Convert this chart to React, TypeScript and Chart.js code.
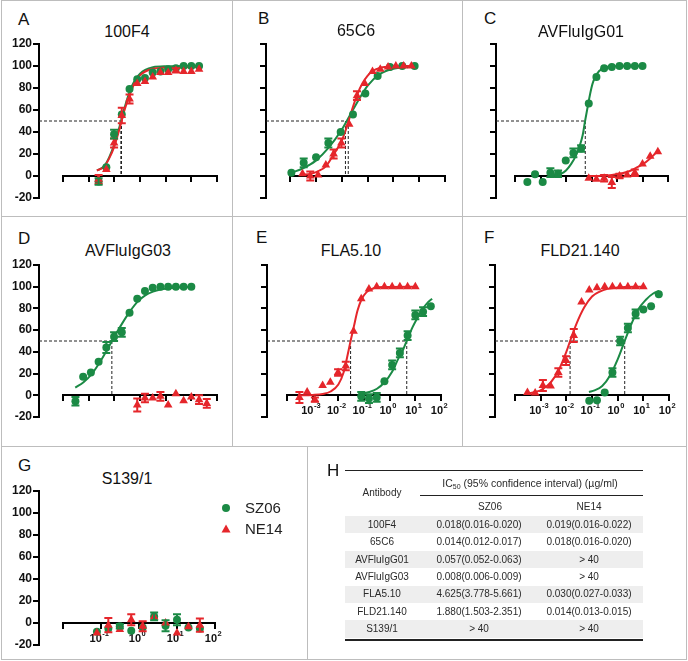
import React, { useEffect, useRef } from "react";
import { Chart, registerables } from "chart.js";

Chart.register(...registerables);

const FONT = "Arial, 'Liberation Sans', Helvetica, sans-serif";
const GREEN = "#1b8a45";
const RED = "#e5262b";
const DASH = "#222222";

// ---- concentrations (µg/ml) ----
const conc20by2 = [0.00244, 0.00488, 0.00977, 0.0195, 0.0391, 0.0781, 0.156, 0.3125, 0.625, 1.25, 2.5, 5, 10, 20];
const conc667by3 = [0.000113, 0.000339, 0.00102, 0.00305, 0.00914, 0.0274, 0.0823, 0.247, 0.741, 2.22, 6.67];
const conc5by2 = [0.000305, 0.00061, 0.00122, 0.00244, 0.00488, 0.00977, 0.0195, 0.0391, 0.0781, 0.156, 0.3125, 0.625, 1.25, 2.5, 5];
const conc10by2 = [0.000305, 0.00061, 0.00122, 0.00244, 0.00488, 0.00977, 0.0195, 0.0391, 0.0781, 0.156, 0.3125, 0.625, 1.25, 2.5, 5, 10];
const conc40by2 = [0.0781, 0.156, 0.3125, 0.625, 1.25, 2.5, 5, 10, 20, 40];

// ---- A: 100F4 ----
const aSZ06 = [-5, 8, 38, 56, 79, 88, 89, 94, 95, 97, 98, 100, 100, 100];
const aSZ06Err = [3, 0, 4, 0, 0, 0, 0, 0, 0, 0, 0, 0, 0, 0];
const aNE14 = [-3, 6, 30, 55, 70, 84, 86, 90, 94, 94, 96, 95, 95, 97];
const aNE14Err = [4, 0, 4, 7, 4, 0, 0, 0, 0, 0, 2, 0, 0, 0];
const aFitX = [0.0021, 0.004, 0.0063, 0.01, 0.016, 0.025, 0.04, 0.063, 0.1, 0.16, 0.32, 1, 20];
const aFitSZ06 = [5, 9, 17, 29, 45, 62, 77, 87, 93, 96.5, 98.8, 99.7, 100];
const aFitNE14 = [5, 8.5, 16, 27, 43, 60, 74, 85, 91.5, 95, 97.5, 98.5, 99];

// ---- B: 65C6 ----
const bSZ06 = [3, 12, 17, 30, 40, 56, 75, 91, 99, 100, 100];
const bSZ06Err = [0, 4, 0, 4, 0, 0, 0, 0, 0, 0, 0];
const bNE14 = [2, 0, 1, 10, 20, 30, 47, 73, 84, 95, 97, 99, 100, 100, 100];
const bNE14Err = [0, 4, 0, 0, 4, 4, 0, 4, 0, 0, 0, 0, 0, 0, 0];
const bFitSZ06X = [0.000112, 0.00032, 0.001, 0.0032, 0.01, 0.032, 0.1, 0.32, 1, 6.7];
const bFitSZ06 = [3, 7, 14, 26, 42, 63, 82, 93, 97.5, 99.5];
const bFitNE14X = [0.0003, 0.00063, 0.00126, 0.0025, 0.005, 0.01, 0.016, 0.025, 0.04, 0.063, 0.1, 0.16, 0.32, 1, 5];
const bFitNE14 = [1, 2, 4.5, 9, 20, 32, 45, 60, 74, 84, 91, 95.5, 98.5, 99.7, 100];

// ---- C: AVFluIgG01 ----
const cSZ06 = [-5.5, 1.5, -5.5, 3, 2, 14, 21, 25, 66, 90, 98, 99, 100, 100, 100, 100];
const cSZ06Err = [0, 0, 0, 4, 3, 0, 4, 3, 0, 0, 0, 0, 0, 0, 0, 0];
const cNE14 = [-2, -3, -2, -6, 0, 1, 3, 11, 18, 22];
const cNE14Err = [0, 0, 3, 5, 2, 0, 3, 0, 0, 0];
const cFitSZ06X = [0.0028, 0.0063, 0.01, 0.016, 0.025, 0.035, 0.045, 0.056, 0.071, 0.089, 0.11, 0.14, 0.2, 0.32, 0.63, 10];
const cFitSZ06 = [0.5, 2, 5, 11, 19, 28, 37, 50, 63, 75, 84, 90, 95.5, 98.5, 99.7, 100];
const cFitNE14X = [0.079, 0.25, 0.63, 1.6, 3.2, 6.3, 10, 20, 45];
const cFitNE14 = [0, 0.3, 1, 2.5, 4.5, 8, 10.5, 16, 24];

// ---- D: AVFluIgG03 ----
const dSZ06 = [-5.5, 17, 21, 31, 44, 54, 58, 76, 89, 96, 99, 100, 100, 100, 100, 100];
const dSZ06Err = [4, 0, 0, 0, 5, 4, 4, 0, 0, 0, 0, 0, 0, 0, 0, 0];
const dNE14 = [-9, -2.5, -2.5, -1, -9, 1.5, -5, -1.5, -4, -7.5];
const dNE14Err = [6, 4, 0, 4, 0, 0, 0, 0, 4, 4];
const dFitSZ06X = [0.0003, 0.00063, 0.00126, 0.0025, 0.005, 0.01, 0.02, 0.04, 0.079, 0.16, 0.32, 0.63, 2.5, 10];
const dFitSZ06 = [7, 12, 19, 29, 41, 54, 66, 77, 86, 92, 95.5, 97.5, 99.3, 99.8];

// ---- E: FLA5.10 ----
const eSZ06 = [-1, -3, -2, 13, 28, 39, 55, 74, 77, 82];
const eSZ06Err = [4, 4, 4, 0, 4, 4, 4, 4, 4, 0];
const eNE14 = [-2, 3, -4, 9, 12, 21, 27, 59, 89, 98, 100, 100, 100, 100, 100, 100];
const eNE14Err = [5, 0, 2, 0, 0, 3, 4, 0, 0, 0, 0, 0, 0, 0, 0, 0];
const eFitSZ06X = [0.079, 0.16, 0.32, 0.63, 1.26, 2.2, 3.2, 4.6, 7.9, 12.6, 20, 32, 45];
const eFitSZ06 = [1.5, 3, 6, 12, 22, 34, 41, 50, 63, 72, 80, 86, 89];
const eFitNE14X = [0.00028, 0.001, 0.0025, 0.005, 0.01, 0.016, 0.022, 0.03, 0.04, 0.056, 0.079, 0.126, 0.25, 0.63, 10];
const eFitNE14 = [0, 0.3, 1.2, 3.5, 10, 21, 35, 50, 63, 78, 88, 95, 98.8, 99.8, 100];

// ---- F: FLD21.140 ----
const fSZ06 = [-5, -4.5, 2.5, 21, 50, 62, 75, 79, 82, 93];
const fSZ06Err = [0, 0, 0, 4, 4, 4, 4, 0, 0, 0];
const fNE14 = [2.5, 2, 9, 8.5, 21, 32, 55, 86, 97, 99, 100, 100, 100, 100, 100, 100];
const fNE14Err = [0, 0, 5, 0, 4, 4, 6, 0, 0, 0, 0, 0, 0, 0, 0, 0];
const fFitSZ06X = [0.076, 0.126, 0.25, 0.5, 1, 1.88, 3.2, 6.3, 12.6, 25, 42];
const fFitSZ06 = [3, 4.5, 8.5, 18, 33, 50, 64, 79, 88, 94, 96];
const fFitNE14X = [0.00028, 0.00063, 0.00126, 0.0025, 0.005, 0.01, 0.014, 0.025, 0.05, 0.1, 0.2, 0.4, 1, 10];
const fFitNE14 = [1.5, 3, 6, 12, 23, 40, 50, 66, 81, 91, 95.5, 98, 99.3, 100];

// ---- G: S139/1 ----
const gSZ06 = [-8, -5, -3, -7, -4, 6, -2.5, 3, -4, -5];
const gSZ06Err = [0, 0, 2, 0, 0, 3.5, 5, 5, 0, 0];
const gNE14 = [-9, -2, -6, 3, -3, 5.5, 0, -9, -3.5, -2];
const gNE14Err = [0, 6.5, 0, 5, 4.5, 0, 0, 0, 0, 6];

// ---- H: table ----
const tableAntibodies = ["100F4", "65C6", "AVFluIgG01", "AVFluIgG03", "FLA5.10", "FLD21.140", "S139/1"];
const tableSZ06 = ["0.018(0.016-0.020)", "0.014(0.012-0.017)", "0.057(0.052-0.063)", "0.008(0.006-0.009)", "4.625(3.778-5.661)", "1.880(1.503-2.351)", "> 40"];
const tableNE14 = ["0.019(0.016-0.022)", "0.018(0.016-0.020)", "> 40", "> 40", "0.030(0.027-0.033)", "0.014(0.013-0.015)", "> 40"];
const ic50SZ06 = [0.018, 0.014, 0.057, 0.008, 4.625, 1.88, null];
const ic50NE14 = [0.019, 0.018, null, null, 0.03, 0.014, null];

// ---- axes ----
const decadeTicks = [0.0001, 0.001, 0.01, 0.1, 1, 10, 100];
const efTickExps = ["", "-3", "-2", "-1", "0", "1", "2"];
const gTicks = [0.01, 0.1, 1, 10, 100];
const gTickExps = ["", "-1", "0", "1", "2"];
const yMin = -20;
const yMax = 120;
const yStep = 20;

const Y_W = 36;
const PAD_T = 12;
const PAD_R = 14;
const PAD_B = 26;

type XY = { x: number[]; y: number[]; err?: number[] };
type Geom = { yAxisX: number; xStart: number; xEnd: number; yTop: number; yBottom: number };
type PanelDef = {
  letter: string;
  title: string;
  letterPos: [number, number];
  titlePos: [number, number];
  geom: Geom;
  ticks: number[];
  tickExps: string[] | null;
  showY: boolean;
  sz: XY;
  ne: XY;
  szFit?: XY;
  neFit?: XY;
  ic50: (number | null)[];
};

const panels: PanelDef[] = [
  {
    letter: "A", title: "100F4", letterPos: [18, 20], titlePos: [127, 32],
    geom: { yAxisX: 39, xStart: 63, xEnd: 217, yTop: 44, yBottom: 198 },
    ticks: decadeTicks, tickExps: null, showY: true,
    sz: { x: conc20by2, y: aSZ06, err: aSZ06Err }, ne: { x: conc20by2, y: aNE14, err: aNE14Err },
    szFit: { x: aFitX, y: aFitSZ06 }, neFit: { x: aFitX, y: aFitNE14 },
    ic50: [ic50SZ06[0], ic50NE14[0]],
  },
  {
    letter: "B", title: "65C6", letterPos: [258, 19], titlePos: [356, 31],
    geom: { yAxisX: 266, xStart: 290, xEnd: 445, yTop: 44, yBottom: 198 },
    ticks: decadeTicks, tickExps: null, showY: false,
    sz: { x: conc667by3, y: bSZ06, err: bSZ06Err }, ne: { x: conc5by2, y: bNE14, err: bNE14Err },
    szFit: { x: bFitSZ06X, y: bFitSZ06 }, neFit: { x: bFitNE14X, y: bFitNE14 },
    ic50: [ic50SZ06[1], ic50NE14[1]],
  },
  {
    letter: "C", title: "AVFluIgG01", letterPos: [484, 19], titlePos: [581, 32],
    geom: { yAxisX: 496, xStart: 515, xEnd: 668, yTop: 44, yBottom: 198 },
    ticks: decadeTicks, tickExps: null, showY: false,
    sz: { x: conc10by2, y: cSZ06, err: cSZ06Err }, ne: { x: conc40by2, y: cNE14, err: cNE14Err },
    szFit: { x: cFitSZ06X, y: cFitSZ06 }, neFit: { x: cFitNE14X, y: cFitNE14 },
    ic50: [ic50SZ06[2], ic50NE14[2]],
  },
  {
    letter: "D", title: "AVFluIgG03", letterPos: [18, 239], titlePos: [128, 251],
    geom: { yAxisX: 39, xStart: 63, xEnd: 217, yTop: 265, yBottom: 417 },
    ticks: decadeTicks, tickExps: null, showY: true,
    sz: { x: conc10by2, y: dSZ06, err: dSZ06Err }, ne: { x: conc40by2, y: dNE14, err: dNE14Err },
    szFit: { x: dFitSZ06X, y: dFitSZ06 },
    ic50: [ic50SZ06[3], ic50NE14[3]],
  },
  {
    letter: "E", title: "FLA5.10", letterPos: [256, 238], titlePos: [351, 251],
    geom: { yAxisX: 267, xStart: 287, xEnd: 441, yTop: 265, yBottom: 417 },
    ticks: decadeTicks, tickExps: efTickExps, showY: false,
    sz: { x: conc40by2, y: eSZ06, err: eSZ06Err }, ne: { x: conc10by2, y: eNE14, err: eNE14Err },
    szFit: { x: eFitSZ06X, y: eFitSZ06 }, neFit: { x: eFitNE14X, y: eFitNE14 },
    ic50: [ic50SZ06[4], ic50NE14[4]],
  },
  {
    letter: "F", title: "FLD21.140", letterPos: [484, 238], titlePos: [580, 251],
    geom: { yAxisX: 495, xStart: 515, xEnd: 669, yTop: 265, yBottom: 417 },
    ticks: decadeTicks, tickExps: efTickExps, showY: false,
    sz: { x: conc40by2, y: fSZ06, err: fSZ06Err }, ne: { x: conc10by2, y: fNE14, err: fNE14Err },
    szFit: { x: fFitSZ06X, y: fFitSZ06 }, neFit: { x: fFitNE14X, y: fFitNE14 },
    ic50: [ic50SZ06[5], ic50NE14[5]],
  },
  {
    letter: "G", title: "S139/1", letterPos: [18, 466], titlePos: [127, 479],
    geom: { yAxisX: 39, xStart: 63, xEnd: 215, yTop: 491, yBottom: 645 },
    ticks: gTicks, tickExps: gTickExps, showY: true,
    sz: { x: conc40by2, y: gSZ06, err: gSZ06Err }, ne: { x: conc40by2, y: gNE14, err: gNE14Err },
    ic50: [ic50SZ06[6], ic50NE14[6]],
  },
];

function makeXAxisPlugin(ticks: number[], exps: string[] | null) {
  return {
    id: "offsetLogAxis",
    beforeDatasetsDraw(chart: any) {
      const { ctx } = chart;
      const xs = chart.scales.x;
      const ys = chart.scales.y;
      const y0 = Math.round(ys.getPixelForValue(0));
      ctx.save();
      ctx.strokeStyle = "#000";
      ctx.lineWidth = 2;
      ctx.beginPath();
      const x0 = xs.getPixelForValue(ticks[0]);
      const x1 = xs.getPixelForValue(ticks[ticks.length - 1]);
      ctx.moveTo(x0 - 1, y0);
      ctx.lineTo(x1 + 1, y0);
      ticks.forEach((t) => {
        const px = Math.round(xs.getPixelForValue(t));
        ctx.moveTo(px, y0);
        ctx.lineTo(px, y0 + 6);
      });
      ctx.stroke();
      if (exps) {
        ctx.fillStyle = "#111";
        ctx.textBaseline = "middle";
        ctx.textAlign = "left";
        ticks.forEach((t, i) => {
          const e = exps[i];
          if (!e) return;
          const px = xs.getPixelForValue(t);
          ctx.font = `bold 11px ${FONT}`;
          const wb = ctx.measureText("10").width;
          ctx.font = `bold 7.5px ${FONT}`;
          const we = ctx.measureText(e).width;
          const left = px - (wb + we) / 2 - 2;
          ctx.font = `bold 11px ${FONT}`;
          ctx.fillText("10", left, y0 + 15.5);
          ctx.font = `bold 7.5px ${FONT}`;
          ctx.fillText(e, left + wb + 0.5, y0 + 11);
        });
      }
      ctx.restore();
    },
  };
}

const errorBarPlugin = {
  id: "errorBars",
  afterDatasetsDraw(chart: any) {
    const { ctx } = chart;
    const xs = chart.scales.x;
    const ys = chart.scales.y;
    chart.data.datasets.forEach((ds: any) => {
      if (!ds.errors) return;
      ctx.save();
      ctx.strokeStyle = ds.borderColor;
      ctx.lineWidth = 2;
      ds.data.forEach((pt: any, j: number) => {
        const e = ds.errors[j];
        if (!e) return;
        const px = xs.getPixelForValue(pt.x);
        const yt = ys.getPixelForValue(pt.y + e);
        const yb = ys.getPixelForValue(pt.y - e);
        ctx.beginPath();
        ctx.moveTo(px, yt);
        ctx.lineTo(px, yb);
        ctx.moveTo(px - 4, yt);
        ctx.lineTo(px + 4, yt);
        ctx.moveTo(px - 4, yb);
        ctx.lineTo(px + 4, yb);
        ctx.stroke();
      });
      ctx.restore();
    });
  },
};

function pointSet(s: XY, color: string, style: string, r: number) {
  return {
    data: s.x.map((x, i) => ({ x, y: s.y[i] })),
    errors: s.err,
    pointStyle: style,
    pointRadius: r,
    pointHoverRadius: r,
    backgroundColor: color,
    borderColor: color,
    pointBorderWidth: 0,
    showLine: false,
  };
}

function fitSet(s: XY, color: string) {
  return {
    data: s.x.map((x, i) => ({ x, y: s.y[i] })),
    showLine: true,
    borderColor: color,
    borderWidth: 2,
    pointRadius: 0,
    cubicInterpolationMode: "monotone",
    fill: false,
  };
}

function dashSet(pts: { x: number; y: number }[]) {
  return {
    data: pts,
    showLine: true,
    borderColor: DASH,
    borderWidth: 1,
    borderDash: [3, 2],
    pointRadius: 0,
    fill: false,
  };
}

function PanelChart({ p }: { p: PanelDef }) {
  const ref = useRef<HTMLCanvasElement | null>(null);
  const g = p.geom;
  const cw = g.xEnd - g.yAxisX + Y_W + PAD_R;
  const ch = g.yBottom - g.yTop + PAD_T + PAD_B;
  useEffect(() => {
    const canvas = ref.current;
    if (!canvas) return;
    const logMin = Math.log10(p.ticks[0]);
    const logMax = Math.log10(p.ticks[p.ticks.length - 1]);
    const dec = (g.xEnd - g.xStart) / (logMax - logMin);
    const xMin = Math.pow(10, logMin - (g.xStart - g.yAxisX) / dec);
    const xMax = p.ticks[p.ticks.length - 1];
    const datasets: any[] = [];
    datasets.push(pointSet(p.ne, RED, "triangle", 5));
    datasets.push(pointSet(p.sz, GREEN, "circle", 4));
    if (p.neFit) datasets.push(fitSet(p.neFit, RED));
    if (p.szFit) datasets.push(fitSet(p.szFit, GREEN));
    const ics = p.ic50.filter((v) => v != null) as number[];
    if (ics.length) {
      datasets.push(dashSet([{ x: xMin, y: 50 }, { x: Math.max(...ics), y: 50 }]));
      ics.forEach((v) => datasets.push(dashSet([{ x: v, y: 50 }, { x: v, y: 0 }])));
    }
    const chart = new Chart(canvas, {
      type: "scatter",
      data: { datasets },
      options: {
        responsive: false,
        animation: false,
        events: [],
        layout: { padding: { left: 0, top: PAD_T, right: PAD_R, bottom: PAD_B } },
        plugins: { legend: { display: false }, tooltip: { enabled: false } },
        scales: {
          x: { type: "logarithmic", display: false, bounds: "data", min: xMin, max: xMax },
          y: {
            type: "linear",
            min: yMin,
            max: yMax,
            afterFit: (s: any) => {
              s.width = Y_W;
            },
            ticks: {
              display: p.showY,
              stepSize: yStep,
              color: "#111",
              padding: 1,
              font: { family: FONT, size: 12, weight: "bold" },
            },
            grid: { display: true, drawOnChartArea: false, drawTicks: true, tickLength: 6, color: "#000", lineWidth: 2 },
            border: { display: true, color: "#000", width: 2 },
          },
        },
      } as any,
      plugins: [makeXAxisPlugin(p.ticks, p.tickExps), errorBarPlugin] as any,
    });
    return () => chart.destroy();
  }, [p]);
  return (
    <canvas
      ref={ref}
      width={cw}
      height={ch}
      style={{ position: "absolute", left: g.yAxisX - Y_W, top: g.yTop - PAD_T, width: cw, height: ch }}
    />
  );
}

function Panel({ p }: { p: PanelDef }) {
  return (
    <>
      <div
        style={{
          position: "absolute", left: p.letterPos[0], top: p.letterPos[1] - 9, fontSize: 17,
          lineHeight: "18px", color: "#111",
        }}
      >
        {p.letter}
      </div>
      <div
        style={{
          position: "absolute", left: p.titlePos[0] - 80, width: 160, top: p.titlePos[1] - 9,
          fontSize: 16, lineHeight: "18px", textAlign: "center", color: "#111",
        }}
      >
        {p.title}
      </div>
      <PanelChart p={p} />
    </>
  );
}

const borderLines: [number, number, number, number][] = [
  [1, 0, 686, 1],
  [1, 659, 686, 1],
  [1, 0, 1, 660],
  [686, 0, 1, 660],
  [1, 216, 686, 1],
  [1, 446, 686, 1],
  [232, 0, 1, 446],
  [462, 0, 1, 446],
  [307, 446, 1, 214],
];

function Legend() {
  return (
    <>
      <svg style={{ position: "absolute", left: 220, top: 502 }} width={12} height={12}>
        <circle cx={6} cy={6} r={4} fill={GREEN} />
      </svg>
      <svg style={{ position: "absolute", left: 220, top: 523 }} width={12} height={12}>
        <polygon points="6,1.5 10.5,9.5 1.5,9.5" fill={RED} />
      </svg>
      <div style={{ position: "absolute", left: 245, top: 499, fontSize: 15, lineHeight: "18px", color: "#222" }}>SZ06</div>
      <div style={{ position: "absolute", left: 245, top: 520, fontSize: 15, lineHeight: "18px", color: "#222" }}>NE14</div>
    </>
  );
}

function TableH() {
  const L = 345;
  const R = 643;
  const rowTop = 516;
  const rowH = 17.4;
  const cols = [382, 479, 589];
  const txt = (t: any, cx: number, cy: number, key: string) => (
    <div
      key={key}
      style={{
        position: "absolute", left: cx - 90, width: 180, top: cy - 8, height: 16, lineHeight: "16px",
        textAlign: "center", fontSize: 10, color: "#2a2a2a", whiteSpace: "nowrap",
      }}
    >
      {t}
    </div>
  );
  const rule = (top: number, left: number, width: number, h: number, key: string) => (
    <div key={key} style={{ position: "absolute", left, top, width, height: h, background: "#222" }} />
  );
  return (
    <>
      <div style={{ position: "absolute", left: 327, top: 462, fontSize: 17, lineHeight: "18px", color: "#111" }}>H</div>
      {rule(470, L, R - L, 1, "r1")}
      {txt("Antibody", cols[0], 493, "hA")}
      {txt(
        <span style={{ fontSize: 10.5 }}>
          IC<sub style={{ fontSize: 7, verticalAlign: "-2px" }}>50</sub> (95% confidence interval) (µg/ml)
        </span>,
        530,
        483,
        "hIC"
      )}
      {rule(495, 420, R - 420, 1, "r2")}
      {txt("SZ06", 490, 507, "hS")}
      {txt("NE14", cols[2], 507, "hN")}
      {tableAntibodies.map((a, i) => (
        <div
          key={"bg" + i}
          style={{
            position: "absolute", left: L, width: R - L, top: rowTop + i * rowH, height: rowH,
            background: i % 2 === 0 ? "#eeeeee" : "transparent",
          }}
        />
      ))}
      {tableAntibodies.map((a, i) => txt(a, cols[0], rowTop + (i + 0.5) * rowH, "a" + i))}
      {tableSZ06.map((a, i) => txt(a, cols[1], rowTop + (i + 0.5) * rowH, "s" + i))}
      {tableNE14.map((a, i) => txt(a, cols[2], rowTop + (i + 0.5) * rowH, "n" + i))}
      {rule(638.5, L, R - L, 2, "r3")}
    </>
  );
}

export default function App() {
  return (
    <div
      style={{
        position: "fixed", left: 0, top: 0, width: 688, height: 661, background: "#fff",
        fontFamily: FONT, color: "#111", overflow: "hidden",
      }}
    >
      {borderLines.map((l, i) => (
        <div key={i} style={{ position: "absolute", left: l[0], top: l[1], width: l[2], height: l[3], background: "#bdbdbd" }} />
      ))}
      {panels.map((p) => (
        <Panel key={p.letter} p={p} />
      ))}
      <Legend />
      <TableH />
    </div>
  );
}
